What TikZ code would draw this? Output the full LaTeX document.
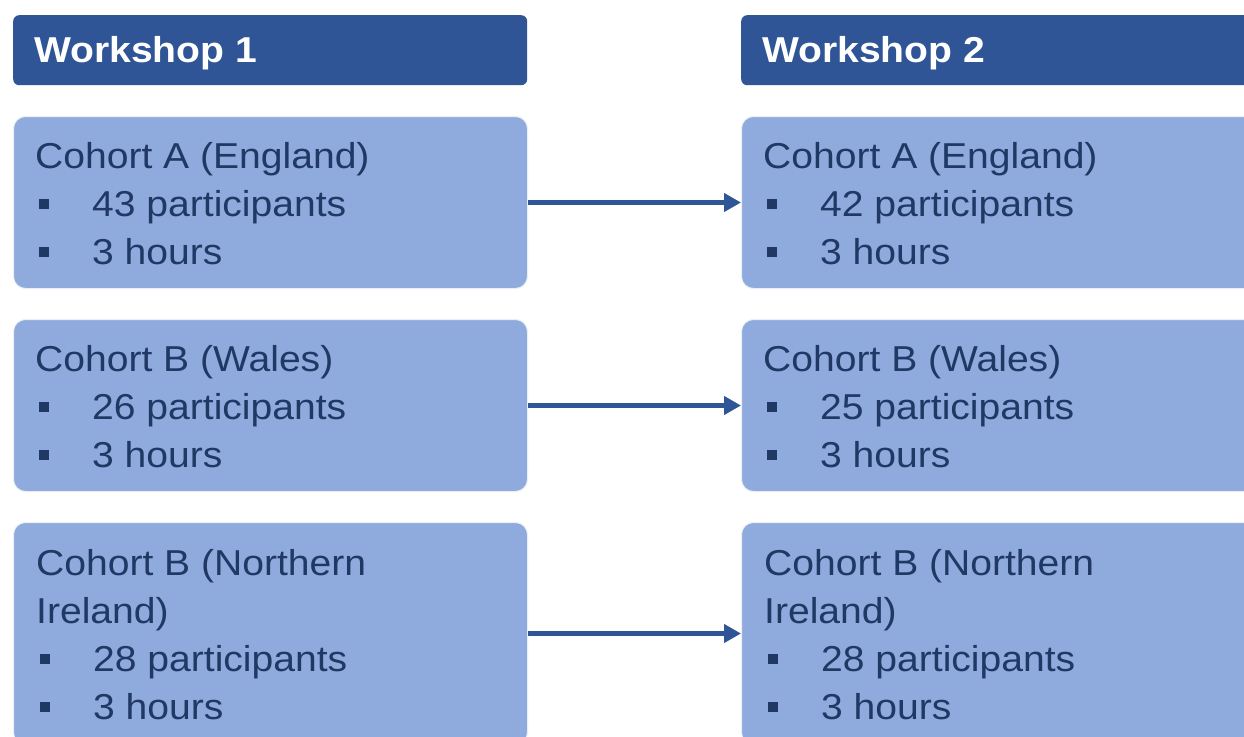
\documentclass[tikz,border=0pt]{standalone}
\usepackage{fontspec}
\setmainfont{Liberation Sans}[FakeStretch=1.085]
\usetikzlibrary{arrows.meta}
\definecolor{hdr}{HTML}{2F5597}
\definecolor{boxc}{HTML}{8FAADC}
\definecolor{txt}{HTML}{1F3864}
\definecolor{arr}{HTML}{2F5597}
\begin{document}
\begin{tikzpicture}[x=1pt,y=-1pt,
  hdrbox/.style={fill=hdr, rounded corners=6pt, minimum width=#1, minimum height=70pt, anchor=north west, inner sep=0pt},
  cbox/.style 2 args={fill=boxc, draw=white!80!boxc, line width=1pt, rounded corners=12pt, minimum width=#1, minimum height=#2, anchor=north west, inner sep=0pt},
  htxt/.style={anchor=base west, inner sep=0pt, text=white, font=\fontsize{36}{40}\selectfont\bfseries},
  ctxt/.style={anchor=base west, inner sep=0pt, text=txt, font=\fontsize{36}{40}\selectfont},
  bul/.style={fill=txt, minimum size=10pt, inner sep=0pt},
  link/.style={draw=arr, line width=5pt, -{Triangle[length=17pt,width=18pt]}}]
\clip (0,0) rectangle (1244,736);
\fill[white] (0,0) rectangle (1244,736);
% headers
\node[hdrbox=514pt] (h1) at (13,15) {};
\node[hdrbox=600pt] (h2) at (741,15) {};
\node[htxt] (h1t) at (34,62) {Workshop 1};
\node[htxt] (h2t) at (762,62) {Workshop 2};
% boxes
\node[cbox={514pt}{172pt}] (a1) at (13,116) {};
\node[cbox={600pt}{172pt}] (a2) at (741,116) {};
\node[cbox={514pt}{172pt}] (b1) at (13,319) {};
\node[cbox={600pt}{172pt}] (b2) at (741,319) {};
\node[cbox={514pt}{222pt}] (c1) at (13,522) {};
\node[cbox={600pt}{222pt}] (c2) at (741,522) {};
% connectors
\draw[link] (a1.east) -- (a2.west);
\draw[link] (b1.east) -- (b2.west);
\draw[link] (c1.east) -- (c2.west);
% row A text
\node[ctxt] (a1l1) at (35,168) {Cohort A (England)};
\node[bul] (a1b1) at (44,204) {};
\node[ctxt] (a1l2) at (92,216) {43 participants};
\node[bul] (a1b2) at (44,252) {};
\node[ctxt] (a1l3) at (92,264) {3 hours};
\node[ctxt] (a2l1) at (763,168) {Cohort A (England)};
\node[bul] (a2b1) at (772,204) {};
\node[ctxt] (a2l2) at (820,216) {42 participants};
\node[bul] (a2b2) at (772,252) {};
\node[ctxt] (a2l3) at (820,264) {3 hours};
% row B text
\node[ctxt] (b1l1) at (35,371) {Cohort B (Wales)};
\node[bul] (b1b1) at (44,407) {};
\node[ctxt] (b1l2) at (92,419) {26 participants};
\node[bul] (b1b2) at (44,455) {};
\node[ctxt] (b1l3) at (92,467) {3 hours};
\node[ctxt] (b2l1) at (763,371) {Cohort B (Wales)};
\node[bul] (b2b1) at (772,407) {};
\node[ctxt] (b2l2) at (820,419) {25 participants};
\node[bul] (b2b2) at (772,455) {};
\node[ctxt] (b2l3) at (820,467) {3 hours};
% row C text
\node[ctxt] (c1l1) at (36,575) {Cohort B (Northern};
\node[ctxt] (c1l2) at (36,623) {Ireland)};
\node[bul] (c1b1) at (45,659) {};
\node[ctxt] (c1l3) at (93,671) {28 participants};
\node[bul] (c1b2) at (45,707) {};
\node[ctxt] (c1l4) at (93,719) {3 hours};
\node[ctxt] (c2l1) at (764,575) {Cohort B (Northern};
\node[ctxt] (c2l2) at (764,623) {Ireland)};
\node[bul] (c2b1) at (773,659) {};
\node[ctxt] (c2l3) at (821,671) {28 participants};
\node[bul] (c2b2) at (773,707) {};
\node[ctxt] (c2l4) at (821,719) {3 hours};
\end{tikzpicture}
\end{document}
